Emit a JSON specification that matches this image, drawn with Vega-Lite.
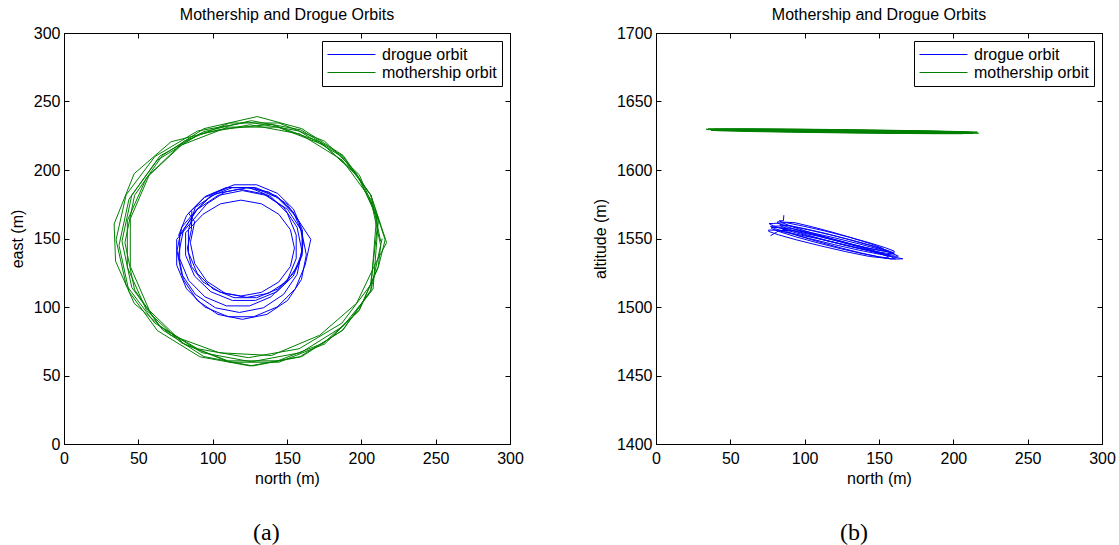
{
  "$schema": "https://vega.github.io/schema/vega-lite/v6.json",
  "padding": {"left": 8, "top": 6, "right": 0, "bottom": 0},
  "datasets": {
    "orbits": [
      {"orbit": "drogue orbit", "t": 0, "north": 86, "east": 170, "alt": 1567},
      {"orbit": "drogue orbit", "t": 1, "north": 85.7, "east": 156.4, "alt": 1563.0},
      {"orbit": "drogue orbit", "t": 2, "north": 83, "east": 143, "alt": 1562.9},
      {"orbit": "drogue orbit", "t": 3, "north": 85.7, "east": 129.6, "alt": 1561.1},
      {"orbit": "drogue orbit", "t": 4, "north": 93.5, "east": 118.3, "alt": 1557.9},
      {"orbit": "drogue orbit", "t": 5, "north": 105.2, "east": 110.7, "alt": 1553.9},
      {"orbit": "drogue orbit", "t": 6, "north": 119, "east": 108, "alt": 1549.5},
      {"orbit": "drogue orbit", "t": 7, "north": 132.8, "east": 110.7, "alt": 1545.5},
      {"orbit": "drogue orbit", "t": 8, "north": 144.5, "east": 118.3, "alt": 1542.5},
      {"orbit": "drogue orbit", "t": 9, "north": 152.3, "east": 129.6, "alt": 1541.0},
      {"orbit": "drogue orbit", "t": 10, "north": 155, "east": 143, "alt": 1541.1},
      {"orbit": "drogue orbit", "t": 11, "north": 152.3, "east": 156.4, "alt": 1542.9},
      {"orbit": "drogue orbit", "t": 12, "north": 144.5, "east": 167.7, "alt": 1546.1},
      {"orbit": "drogue orbit", "t": 13, "north": 132.8, "east": 175.3, "alt": 1550.1},
      {"orbit": "drogue orbit", "t": 14, "north": 119, "east": 178, "alt": 1554.5},
      {"orbit": "drogue orbit", "t": 15, "north": 105.2, "east": 175.3, "alt": 1558.5},
      {"orbit": "drogue orbit", "t": 16, "north": 93.5, "east": 167.7, "alt": 1561.5},
      {"orbit": "drogue orbit", "t": 17, "north": 81.8, "east": 154.2, "alt": 1562.2},
      {"orbit": "drogue orbit", "t": 18, "north": 81.8, "east": 137.8, "alt": 1561.2},
      {"orbit": "drogue orbit", "t": 19, "north": 87.8, "east": 122.6, "alt": 1558.7},
      {"orbit": "drogue orbit", "t": 20, "north": 98.8, "east": 111.1, "alt": 1555.0},
      {"orbit": "drogue orbit", "t": 21, "north": 113.2, "east": 104.8, "alt": 1550.7},
      {"orbit": "drogue orbit", "t": 22, "north": 128.8, "east": 104.8, "alt": 1546.4},
      {"orbit": "drogue orbit", "t": 23, "north": 143.2, "east": 111.1, "alt": 1542.9},
      {"orbit": "drogue orbit", "t": 24, "north": 154.2, "east": 122.6, "alt": 1540.6},
      {"orbit": "drogue orbit", "t": 25, "north": 160.2, "east": 137.8, "alt": 1539.8},
      {"orbit": "drogue orbit", "t": 26, "north": 160.2, "east": 154.2, "alt": 1540.8},
      {"orbit": "drogue orbit", "t": 27, "north": 154.2, "east": 169.4, "alt": 1543.3},
      {"orbit": "drogue orbit", "t": 28, "north": 143.2, "east": 180.9, "alt": 1547.0},
      {"orbit": "drogue orbit", "t": 29, "north": 128.8, "east": 187.2, "alt": 1551.3},
      {"orbit": "drogue orbit", "t": 30, "north": 113.2, "east": 187.2, "alt": 1555.6},
      {"orbit": "drogue orbit", "t": 31, "north": 98.8, "east": 180.9, "alt": 1559.1},
      {"orbit": "drogue orbit", "t": 32, "north": 87.8, "east": 169.4, "alt": 1561.5},
      {"orbit": "drogue orbit", "t": 33, "north": 79.2, "east": 158.2, "alt": 1561.0},
      {"orbit": "drogue orbit", "t": 34, "north": 76, "east": 141, "alt": 1560.9},
      {"orbit": "drogue orbit", "t": 35, "north": 79.2, "east": 123.8, "alt": 1559.1},
      {"orbit": "drogue orbit", "t": 36, "north": 88.3, "east": 109.2, "alt": 1555.9},
      {"orbit": "drogue orbit", "t": 37, "north": 101.9, "east": 99.4, "alt": 1551.9},
      {"orbit": "drogue orbit", "t": 38, "north": 118, "east": 96, "alt": 1547.5},
      {"orbit": "drogue orbit", "t": 39, "north": 134.1, "east": 99.4, "alt": 1543.5},
      {"orbit": "drogue orbit", "t": 40, "north": 147.7, "east": 109.2, "alt": 1540.5},
      {"orbit": "drogue orbit", "t": 41, "north": 156.8, "east": 123.8, "alt": 1539.0},
      {"orbit": "drogue orbit", "t": 42, "north": 160, "east": 141, "alt": 1539.1},
      {"orbit": "drogue orbit", "t": 43, "north": 156.8, "east": 158.2, "alt": 1540.9},
      {"orbit": "drogue orbit", "t": 44, "north": 147.7, "east": 172.8, "alt": 1544.1},
      {"orbit": "drogue orbit", "t": 45, "north": 134.1, "east": 182.6, "alt": 1548.1},
      {"orbit": "drogue orbit", "t": 46, "north": 118, "east": 186, "alt": 1552.5},
      {"orbit": "drogue orbit", "t": 47, "north": 101.9, "east": 182.6, "alt": 1556.5},
      {"orbit": "drogue orbit", "t": 48, "north": 88.3, "east": 172.8, "alt": 1559.5},
      {"orbit": "drogue orbit", "t": 49, "north": 83.7, "east": 156.2, "alt": 1560.2},
      {"orbit": "drogue orbit", "t": 50, "north": 83.7, "east": 139.8, "alt": 1559.2},
      {"orbit": "drogue orbit", "t": 51, "north": 89.6, "east": 124.6, "alt": 1556.7},
      {"orbit": "drogue orbit", "t": 52, "north": 100.3, "east": 113.1, "alt": 1553.0},
      {"orbit": "drogue orbit", "t": 53, "north": 114.4, "east": 106.8, "alt": 1548.7},
      {"orbit": "drogue orbit", "t": 54, "north": 129.6, "east": 106.8, "alt": 1544.4},
      {"orbit": "drogue orbit", "t": 55, "north": 143.7, "east": 113.1, "alt": 1540.9},
      {"orbit": "drogue orbit", "t": 56, "north": 154.4, "east": 124.6, "alt": 1538.6},
      {"orbit": "drogue orbit", "t": 57, "north": 160.3, "east": 139.8, "alt": 1537.8},
      {"orbit": "drogue orbit", "t": 58, "north": 160.3, "east": 156.2, "alt": 1538.8},
      {"orbit": "drogue orbit", "t": 59, "north": 154.4, "east": 171.4, "alt": 1541.3},
      {"orbit": "drogue orbit", "t": 60, "north": 143.7, "east": 182.9, "alt": 1545.0},
      {"orbit": "drogue orbit", "t": 61, "north": 129.6, "east": 189.2, "alt": 1549.3},
      {"orbit": "drogue orbit", "t": 62, "north": 114.4, "east": 189.2, "alt": 1553.6},
      {"orbit": "drogue orbit", "t": 63, "north": 100.3, "east": 182.9, "alt": 1557.1},
      {"orbit": "drogue orbit", "t": 64, "north": 89.6, "east": 171.4, "alt": 1559.5},
      {"orbit": "drogue orbit", "t": 65, "north": 80.3, "east": 156, "alt": 1559.0},
      {"orbit": "drogue orbit", "t": 66, "north": 77, "east": 138, "alt": 1558.9},
      {"orbit": "drogue orbit", "t": 67, "north": 80.3, "east": 120, "alt": 1557.1},
      {"orbit": "drogue orbit", "t": 68, "north": 89.6, "east": 104.8, "alt": 1553.9},
      {"orbit": "drogue orbit", "t": 69, "north": 103.5, "east": 94.6, "alt": 1549.9},
      {"orbit": "drogue orbit", "t": 70, "north": 120, "east": 91, "alt": 1545.5},
      {"orbit": "drogue orbit", "t": 71, "north": 136.5, "east": 94.6, "alt": 1541.5},
      {"orbit": "drogue orbit", "t": 72, "north": 150.4, "east": 104.8, "alt": 1538.5},
      {"orbit": "drogue orbit", "t": 73, "north": 159.7, "east": 120, "alt": 1537.0},
      {"orbit": "drogue orbit", "t": 74, "north": 163, "east": 138, "alt": 1537.1},
      {"orbit": "drogue orbit", "t": 75, "north": 159.7, "east": 156, "alt": 1538.9},
      {"orbit": "drogue orbit", "t": 76, "north": 150.4, "east": 171.2, "alt": 1542.1},
      {"orbit": "drogue orbit", "t": 77, "north": 136.5, "east": 181.4, "alt": 1546.1},
      {"orbit": "drogue orbit", "t": 78, "north": 120, "east": 185, "alt": 1550.5},
      {"orbit": "drogue orbit", "t": 79, "north": 103.5, "east": 181.4, "alt": 1554.5},
      {"orbit": "drogue orbit", "t": 80, "north": 89.6, "east": 171.2, "alt": 1557.5},
      {"orbit": "drogue orbit", "t": 81, "north": 77.8, "east": 152.6, "alt": 1558.2},
      {"orbit": "drogue orbit", "t": 82, "north": 77.8, "east": 135.4, "alt": 1557.2},
      {"orbit": "drogue orbit", "t": 83, "north": 83.8, "east": 119.5, "alt": 1554.7},
      {"orbit": "drogue orbit", "t": 84, "north": 94.8, "east": 107.4, "alt": 1551.0},
      {"orbit": "drogue orbit", "t": 85, "north": 109.2, "east": 100.8, "alt": 1546.7},
      {"orbit": "drogue orbit", "t": 86, "north": 124.8, "east": 100.8, "alt": 1542.4},
      {"orbit": "drogue orbit", "t": 87, "north": 139.2, "east": 107.4, "alt": 1538.9},
      {"orbit": "drogue orbit", "t": 88, "north": 150.2, "east": 119.5, "alt": 1536.6},
      {"orbit": "drogue orbit", "t": 89, "north": 156.2, "east": 135.4, "alt": 1535.8},
      {"orbit": "drogue orbit", "t": 90, "north": 156.2, "east": 152.6, "alt": 1536.8},
      {"orbit": "drogue orbit", "t": 91, "north": 150.2, "east": 168.5, "alt": 1539.3},
      {"orbit": "drogue orbit", "t": 92, "north": 139.2, "east": 180.6, "alt": 1543.0},
      {"orbit": "drogue orbit", "t": 93, "north": 124.8, "east": 187.2, "alt": 1547.3},
      {"orbit": "drogue orbit", "t": 94, "north": 109.2, "east": 187.2, "alt": 1551.6},
      {"orbit": "drogue orbit", "t": 95, "north": 94.8, "east": 180.6, "alt": 1555.1},
      {"orbit": "drogue orbit", "t": 96, "north": 83.8, "east": 168.5, "alt": 1557.5},
      {"orbit": "drogue orbit", "t": 97, "north": 87.9, "east": 162.3, "alt": 1557.0},
      {"orbit": "drogue orbit", "t": 98, "north": 85, "east": 147, "alt": 1556.9},
      {"orbit": "drogue orbit", "t": 99, "north": 87.9, "east": 131.7, "alt": 1555.1},
      {"orbit": "drogue orbit", "t": 100, "north": 96.1, "east": 118.7, "alt": 1551.9},
      {"orbit": "drogue orbit", "t": 101, "north": 108.4, "east": 110, "alt": 1547.9},
      {"orbit": "drogue orbit", "t": 102, "north": 123, "east": 107, "alt": 1543.5},
      {"orbit": "drogue orbit", "t": 103, "north": 137.6, "east": 110, "alt": 1539.5},
      {"orbit": "drogue orbit", "t": 104, "north": 149.9, "east": 118.7, "alt": 1536.5},
      {"orbit": "drogue orbit", "t": 105, "north": 158.1, "east": 131.7, "alt": 1535.0},
      {"orbit": "drogue orbit", "t": 106, "north": 161, "east": 147, "alt": 1535.1},
      {"orbit": "drogue orbit", "t": 107, "north": 158.1, "east": 162.3, "alt": 1536.9},
      {"orbit": "drogue orbit", "t": 108, "north": 149.9, "east": 175.3, "alt": 1540.1},
      {"orbit": "drogue orbit", "t": 109, "north": 137.6, "east": 184, "alt": 1544.1},
      {"orbit": "drogue orbit", "t": 110, "north": 123, "east": 187, "alt": 1548.5},
      {"orbit": "drogue orbit", "t": 111, "north": 108.4, "east": 184, "alt": 1552.5},
      {"orbit": "drogue orbit", "t": 112, "north": 96.1, "east": 175.3, "alt": 1555.5},
      {"orbit": "drogue orbit", "t": 113, "north": 75.8, "east": 149.4, "alt": 1556.2},
      {"orbit": "drogue orbit", "t": 114, "north": 75.8, "east": 130.6, "alt": 1555.2},
      {"orbit": "drogue orbit", "t": 115, "north": 82.4, "east": 113.3, "alt": 1552.7},
      {"orbit": "drogue orbit", "t": 116, "north": 94.5, "east": 100.1, "alt": 1549.0},
      {"orbit": "drogue orbit", "t": 117, "north": 110.4, "east": 92.9, "alt": 1544.7},
      {"orbit": "drogue orbit", "t": 118, "north": 127.6, "east": 92.9, "alt": 1540.4},
      {"orbit": "drogue orbit", "t": 119, "north": 143.5, "east": 100.1, "alt": 1536.9},
      {"orbit": "drogue orbit", "t": 120, "north": 155.6, "east": 113.3, "alt": 1535.5},
      {"orbit": "drogue orbit", "t": 121, "north": 162.2, "east": 130.6, "alt": 1535.0},
      {"orbit": "drogue orbit", "t": 122, "north": 166, "east": 149.4, "alt": 1535.2},
      {"orbit": "drogue orbit", "t": 123, "north": 155.6, "east": 166.7, "alt": 1537.3},
      {"orbit": "drogue orbit", "t": 124, "north": 143.5, "east": 179.9, "alt": 1541.0},
      {"orbit": "drogue orbit", "t": 125, "north": 127.6, "east": 187.1, "alt": 1545.3},
      {"orbit": "drogue orbit", "t": 126, "north": 110.4, "east": 187.1, "alt": 1549.6},
      {"orbit": "drogue orbit", "t": 127, "north": 94.5, "east": 179.9, "alt": 1553.1},
      {"orbit": "drogue orbit", "t": 128, "north": 82.4, "east": 166.7, "alt": 1555.5},
      {"orbit": "drogue orbit", "t": 129, "north": 77, "east": 152, "alt": 1552.0},

      {"orbit": "mothership orbit", "t": 0, "north": 213, "east": 148, "alt": 1627.5},
      {"orbit": "mothership orbit", "t": 1, "north": 206.4, "east": 181.7, "alt": 1627.8},
      {"orbit": "mothership orbit", "t": 2, "north": 187.5, "east": 210.2, "alt": 1628.3},
      {"orbit": "mothership orbit", "t": 3, "north": 159.3, "east": 229.3, "alt": 1628.8},
      {"orbit": "mothership orbit", "t": 4, "north": 126, "east": 236, "alt": 1629.3},
      {"orbit": "mothership orbit", "t": 5, "north": 94.1, "east": 228.0, "alt": 1629.7},
      {"orbit": "mothership orbit", "t": 6, "north": 64.5, "east": 210.2, "alt": 1629.9},
      {"orbit": "mothership orbit", "t": 7, "north": 45.6, "east": 181.7, "alt": 1629.9},
      {"orbit": "mothership orbit", "t": 8, "north": 39, "east": 148, "alt": 1629.7},
      {"orbit": "mothership orbit", "t": 9, "north": 45.6, "east": 114.3, "alt": 1629.4},
      {"orbit": "mothership orbit", "t": 10, "north": 64.5, "east": 85.8, "alt": 1628.9},
      {"orbit": "mothership orbit", "t": 11, "north": 92.7, "east": 66.7, "alt": 1628.4},
      {"orbit": "mothership orbit", "t": 12, "north": 126, "east": 60, "alt": 1627.9},
      {"orbit": "mothership orbit", "t": 13, "north": 159.3, "east": 66.7, "alt": 1627.5},
      {"orbit": "mothership orbit", "t": 14, "north": 187.5, "east": 85.8, "alt": 1627.3},
      {"orbit": "mothership orbit", "t": 15, "north": 207.9, "east": 113.1, "alt": 1627.3},
      {"orbit": "mothership orbit", "t": 16, "north": 211.4, "east": 163, "alt": 1627.1},
      {"orbit": "mothership orbit", "t": 17, "north": 198.5, "east": 194.4, "alt": 1627.6},
      {"orbit": "mothership orbit", "t": 18, "north": 174.8, "east": 218.3, "alt": 1628.1},
      {"orbit": "mothership orbit", "t": 19, "north": 143.8, "east": 231.3, "alt": 1628.6},
      {"orbit": "mothership orbit", "t": 20, "north": 110.2, "east": 231.3, "alt": 1629.0},
      {"orbit": "mothership orbit", "t": 21, "north": 79.2, "east": 218.3, "alt": 1629.3},
      {"orbit": "mothership orbit", "t": 22, "north": 55.5, "east": 194.4, "alt": 1629.4},
      {"orbit": "mothership orbit", "t": 23, "north": 42.6, "east": 163, "alt": 1629.4},
      {"orbit": "mothership orbit", "t": 24, "north": 42.6, "east": 129, "alt": 1629.1},
      {"orbit": "mothership orbit", "t": 25, "north": 55.5, "east": 97.6, "alt": 1628.7},
      {"orbit": "mothership orbit", "t": 26, "north": 79.2, "east": 73.7, "alt": 1628.2},
      {"orbit": "mothership orbit", "t": 27, "north": 110.2, "east": 60.7, "alt": 1627.6},
      {"orbit": "mothership orbit", "t": 28, "north": 143.8, "east": 60.7, "alt": 1627.2},
      {"orbit": "mothership orbit", "t": 29, "north": 174.8, "east": 73.7, "alt": 1626.9},
      {"orbit": "mothership orbit", "t": 30, "north": 198.5, "east": 97.6, "alt": 1626.8},
      {"orbit": "mothership orbit", "t": 31, "north": 211.4, "east": 129, "alt": 1626.9},
      {"orbit": "mothership orbit", "t": 32, "north": 216, "east": 149, "alt": 1627.7},
      {"orbit": "mothership orbit", "t": 33, "north": 206.2, "east": 181.9, "alt": 1628.0},
      {"orbit": "mothership orbit", "t": 34, "north": 186.9, "east": 209.8, "alt": 1628.5},
      {"orbit": "mothership orbit", "t": 35, "north": 158.1, "east": 228.5, "alt": 1629.0},
      {"orbit": "mothership orbit", "t": 36, "north": 124, "east": 235, "alt": 1629.5},
      {"orbit": "mothership orbit", "t": 37, "north": 89.9, "east": 228.5, "alt": 1629.9},
      {"orbit": "mothership orbit", "t": 38, "north": 61.1, "east": 209.8, "alt": 1630.1},
      {"orbit": "mothership orbit", "t": 39, "north": 41.8, "east": 181.9, "alt": 1630.1},
      {"orbit": "mothership orbit", "t": 40, "north": 35, "east": 149, "alt": 1629.9},
      {"orbit": "mothership orbit", "t": 41, "north": 41.8, "east": 116.1, "alt": 1629.6},
      {"orbit": "mothership orbit", "t": 42, "north": 61.1, "east": 88.2, "alt": 1629.1},
      {"orbit": "mothership orbit", "t": 43, "north": 89.9, "east": 69.5, "alt": 1628.6},
      {"orbit": "mothership orbit", "t": 44, "north": 124, "east": 63, "alt": 1628.1},
      {"orbit": "mothership orbit", "t": 45, "north": 158.1, "east": 69.5, "alt": 1627.7},
      {"orbit": "mothership orbit", "t": 46, "north": 186.9, "east": 88.2, "alt": 1627.5},
      {"orbit": "mothership orbit", "t": 47, "north": 206.2, "east": 116.1, "alt": 1627.5},
      {"orbit": "mothership orbit", "t": 48, "north": 211.4, "east": 164.4, "alt": 1627.3},
      {"orbit": "mothership orbit", "t": 49, "north": 198.6, "east": 196.5, "alt": 1627.8},
      {"orbit": "mothership orbit", "t": 50, "north": 175.3, "east": 221, "alt": 1628.3},
      {"orbit": "mothership orbit", "t": 51, "north": 144.6, "east": 234.3, "alt": 1628.8},
      {"orbit": "mothership orbit", "t": 52, "north": 111.4, "east": 234.3, "alt": 1629.2},
      {"orbit": "mothership orbit", "t": 53, "north": 80.7, "east": 221, "alt": 1629.5},
      {"orbit": "mothership orbit", "t": 54, "north": 57.4, "east": 196.5, "alt": 1629.6},
      {"orbit": "mothership orbit", "t": 55, "north": 44.6, "east": 164.4, "alt": 1629.6},
      {"orbit": "mothership orbit", "t": 56, "north": 44.6, "east": 129.6, "alt": 1629.3},
      {"orbit": "mothership orbit", "t": 57, "north": 57.4, "east": 97.5, "alt": 1628.9},
      {"orbit": "mothership orbit", "t": 58, "north": 80.7, "east": 73, "alt": 1628.4},
      {"orbit": "mothership orbit", "t": 59, "north": 111.4, "east": 59.7, "alt": 1627.8},
      {"orbit": "mothership orbit", "t": 60, "north": 144.6, "east": 59.7, "alt": 1627.4},
      {"orbit": "mothership orbit", "t": 61, "north": 175.3, "east": 73, "alt": 1627.1},
      {"orbit": "mothership orbit", "t": 62, "north": 198.6, "east": 97.5, "alt": 1627.0},
      {"orbit": "mothership orbit", "t": 63, "north": 211.4, "east": 129.6, "alt": 1627.1},
      {"orbit": "mothership orbit", "t": 64, "north": 213, "east": 145, "alt": 1626.7},
      {"orbit": "mothership orbit", "t": 65, "north": 206.3, "east": 178.7, "alt": 1627.0},
      {"orbit": "mothership orbit", "t": 66, "north": 187.2, "east": 207.2, "alt": 1627.5},
      {"orbit": "mothership orbit", "t": 67, "north": 158.7, "east": 226.3, "alt": 1628.0},
      {"orbit": "mothership orbit", "t": 68, "north": 125, "east": 233, "alt": 1628.5},
      {"orbit": "mothership orbit", "t": 69, "north": 91.3, "east": 226.3, "alt": 1628.9},
      {"orbit": "mothership orbit", "t": 70, "north": 62.8, "east": 207.2, "alt": 1629.1},
      {"orbit": "mothership orbit", "t": 71, "north": 43.7, "east": 178.7, "alt": 1629.1},
      {"orbit": "mothership orbit", "t": 72, "north": 37, "east": 145, "alt": 1628.9},
      {"orbit": "mothership orbit", "t": 73, "north": 43.7, "east": 111.3, "alt": 1628.6},
      {"orbit": "mothership orbit", "t": 74, "north": 62.8, "east": 82.8, "alt": 1628.1},
      {"orbit": "mothership orbit", "t": 75, "north": 91.3, "east": 63.7, "alt": 1627.6},
      {"orbit": "mothership orbit", "t": 76, "north": 125, "east": 57, "alt": 1627.1},
      {"orbit": "mothership orbit", "t": 77, "north": 158.7, "east": 63.7, "alt": 1626.7},
      {"orbit": "mothership orbit", "t": 78, "north": 187.2, "east": 82.8, "alt": 1626.5},
      {"orbit": "mothership orbit", "t": 79, "north": 206.3, "east": 111.3, "alt": 1626.5},
      {"orbit": "mothership orbit", "t": 80, "north": 210.3, "east": 166.6, "alt": 1627.5},
      {"orbit": "mothership orbit", "t": 81, "north": 196.8, "east": 197.3, "alt": 1628.0},
      {"orbit": "mothership orbit", "t": 82, "north": 172, "east": 220.6, "alt": 1628.5},
      {"orbit": "mothership orbit", "t": 83, "north": 139.6, "east": 233.4, "alt": 1629.0},
      {"orbit": "mothership orbit", "t": 84, "north": 104.4, "east": 229.5, "alt": 1629.4},
      {"orbit": "mothership orbit", "t": 85, "north": 72, "east": 220.6, "alt": 1629.7},
      {"orbit": "mothership orbit", "t": 86, "north": 47.2, "east": 197.3, "alt": 1629.8},
      {"orbit": "mothership orbit", "t": 87, "north": 33.7, "east": 160.6, "alt": 1629.8},
      {"orbit": "mothership orbit", "t": 88, "north": 34.7, "east": 133.4, "alt": 1629.5},
      {"orbit": "mothership orbit", "t": 89, "north": 47.2, "east": 102.7, "alt": 1629.1},
      {"orbit": "mothership orbit", "t": 90, "north": 72, "east": 79.4, "alt": 1628.6},
      {"orbit": "mothership orbit", "t": 91, "north": 104.4, "east": 66.6, "alt": 1628.0},
      {"orbit": "mothership orbit", "t": 92, "north": 139.6, "east": 64.6, "alt": 1627.6},
      {"orbit": "mothership orbit", "t": 93, "north": 172, "east": 79.4, "alt": 1627.3},
      {"orbit": "mothership orbit", "t": 94, "north": 196.8, "east": 102.7, "alt": 1627.2},
      {"orbit": "mothership orbit", "t": 95, "north": 210.3, "east": 133.4, "alt": 1627.3},
      {"orbit": "mothership orbit", "t": 96, "north": 217, "east": 147, "alt": 1626.9},
      {"orbit": "mothership orbit", "t": 97, "north": 206.5, "east": 181.5, "alt": 1627.2},
      {"orbit": "mothership orbit", "t": 98, "north": 187.8, "east": 210.6, "alt": 1627.7},
      {"orbit": "mothership orbit", "t": 99, "north": 159.9, "east": 230.2, "alt": 1628.2},
      {"orbit": "mothership orbit", "t": 100, "north": 130, "east": 239, "alt": 1628.7},
      {"orbit": "mothership orbit", "t": 101, "north": 94.1, "east": 230.2, "alt": 1629.1},
      {"orbit": "mothership orbit", "t": 102, "north": 66.2, "east": 210.6, "alt": 1629.3},
      {"orbit": "mothership orbit", "t": 103, "north": 47.5, "east": 181.5, "alt": 1629.3},
      {"orbit": "mothership orbit", "t": 104, "north": 41, "east": 147, "alt": 1629.1},
      {"orbit": "mothership orbit", "t": 105, "north": 47.5, "east": 112.5, "alt": 1628.8},
      {"orbit": "mothership orbit", "t": 106, "north": 66.2, "east": 83.4, "alt": 1628.3},
      {"orbit": "mothership orbit", "t": 107, "north": 94.1, "east": 63.8, "alt": 1627.8},
      {"orbit": "mothership orbit", "t": 108, "north": 127, "east": 57, "alt": 1627.3},
      {"orbit": "mothership orbit", "t": 109, "north": 159.9, "east": 63.8, "alt": 1626.9},
      {"orbit": "mothership orbit", "t": 110, "north": 187.8, "east": 83.4, "alt": 1626.7},
      {"orbit": "mothership orbit", "t": 111, "north": 206.5, "east": 112.5, "alt": 1626.7},
      {"orbit": "mothership orbit", "t": 112, "north": 214, "east": 150, "alt": 1626.9}
    ]
  },
  "hconcat": [
    {
      "title": {"text": "(a)", "orient": "bottom", "anchor": "middle", "font": "Liberation Serif", "fontSize": 24, "offset": 34},
      "resolve": {"scale": {"color": "independent"}, "legend": {"color": "independent"}},
      "vconcat": [
        {
          "title": {"text": "Mothership and Drogue Orbits", "frame": "group", "anchor": "middle", "offset": 2},
          "width": 446,
          "height": 411,
          "data": {"name": "orbits"},
          "layer": [
            {
              "mark": {"type": "line", "strokeWidth": 1},
              "encoding": {
                "x": {"field": "north", "type": "quantitative", "scale": {"domain": [0, 300], "nice": false, "zero": false},
                      "axis": {"title": "north (m)", "values": [0, 50, 100, 150, 200, 250, 300]}},
                "y": {"field": "east", "type": "quantitative", "scale": {"domain": [0, 300], "nice": false, "zero": false},
                      "axis": {"title": "east (m)", "values": [0, 50, 100, 150, 200, 250, 300]}},
                "color": {"field": "orbit", "type": "nominal",
                          "scale": {"domain": ["drogue orbit", "mothership orbit"], "range": ["#0000ff", "#008000"]},
                          "legend": {"title": null, "orient": "top-right"}},
                "order": {"field": "t", "type": "quantitative"}
              }
            },
            {
              "mark": {"type": "line", "opacity": 0},
              "encoding": {
                "x": {"field": "north", "type": "quantitative", "scale": {"domain": [0, 300], "nice": false, "zero": false},
                      "axis": {"orient": "top", "labels": false, "title": null, "values": [0, 50, 100, 150, 200, 250, 300]}},
                "y": {"field": "east", "type": "quantitative", "scale": {"domain": [0, 300], "nice": false, "zero": false},
                      "axis": {"orient": "right", "labels": false, "title": null, "values": [0, 50, 100, 150, 200, 250, 300]}},
                "detail": {"field": "orbit", "type": "nominal"},
                "order": {"field": "t", "type": "quantitative"}
              }
            }
          ],
          "resolve": {"axis": {"x": "independent", "y": "independent"}}
        }
      ]
    },
    {
      "title": {"text": "(b)", "orient": "bottom", "anchor": "middle", "font": "Liberation Serif", "fontSize": 24, "offset": 34},
      "resolve": {"scale": {"color": "independent"}, "legend": {"color": "independent"}},
      "vconcat": [
        {
          "title": {"text": "Mothership and Drogue Orbits", "frame": "group", "anchor": "middle", "offset": 2},
          "width": 446,
          "height": 411,
          "data": {"name": "orbits"},
          "layer": [
            {
              "mark": {"type": "line", "strokeWidth": 1},
              "encoding": {
                "x": {"field": "north", "type": "quantitative", "scale": {"domain": [0, 300], "nice": false, "zero": false},
                      "axis": {"title": "north (m)", "values": [0, 50, 100, 150, 200, 250, 300]}},
                "y": {"field": "alt", "type": "quantitative", "scale": {"domain": [1400, 1700], "nice": false, "zero": false},
                      "axis": {"title": "altitude (m)", "values": [1400, 1450, 1500, 1550, 1600, 1650, 1700]}},
                "color": {"field": "orbit", "type": "nominal",
                          "scale": {"domain": ["drogue orbit", "mothership orbit"], "range": ["#0000ff", "#008000"]},
                          "legend": {"title": null, "orient": "top-right"}},
                "order": {"field": "t", "type": "quantitative"}
              }
            },
            {
              "mark": {"type": "line", "opacity": 0},
              "encoding": {
                "x": {"field": "north", "type": "quantitative", "scale": {"domain": [0, 300], "nice": false, "zero": false},
                      "axis": {"orient": "top", "labels": false, "title": null, "values": [0, 50, 100, 150, 200, 250, 300]}},
                "y": {"field": "alt", "type": "quantitative", "scale": {"domain": [1400, 1700], "nice": false, "zero": false},
                      "axis": {"orient": "right", "labels": false, "title": null, "values": [1400, 1450, 1500, 1550, 1600, 1650, 1700]}},
                "detail": {"field": "orbit", "type": "nominal"},
                "order": {"field": "t", "type": "quantitative"}
              }
            }
          ],
          "resolve": {"axis": {"x": "independent", "y": "independent"}}
        }
      ]
    }
  ],
  "resolve": {"scale": {"color": "independent"}, "legend": {"color": "independent"}},
  "config": {
    "font": "Liberation Sans",
    "background": "#ffffff",
    "concat": {"spacing": 67},
    "view": {"stroke": "#000000", "strokeWidth": 1},
    "axis": {
      "grid": false,
      "format": "d",
      "domainColor": "#000000",
      "domainWidth": 1,
      "tickColor": "#000000",
      "tickWidth": 1,
      "tickSize": -5,
      "labelFlush": false,
      "labelOverlap": false,
      "labelColor": "#000000",
      "labelFont": "Liberation Sans",
      "labelFontSize": 16,
      "titleColor": "#000000",
      "titleFont": "Liberation Sans",
      "titleFontSize": 16,
      "titleFontWeight": "normal"
    },
    "axisX": {"labelPadding": 11, "titlePadding": 4},
    "axisY": {"labelPadding": 9, "titlePadding": 8},
    "title": {"font": "Liberation Sans", "fontSize": 16, "fontWeight": "normal", "color": "#000000"},
    "legend": {
      "offset": 8,
      "strokeColor": "#000000",
      "fillColor": "#ffffff",
      "padding": 5,
      "symbolType": "stroke",
      "symbolSize": 2304,
      "symbolStrokeWidth": 1,
      "labelFont": "Liberation Sans",
      "labelFontSize": 16,
      "labelColor": "#000000",
      "labelOffset": 6,
      "clipHeight": 17,
      "rowPadding": 1
    }
  }
}
